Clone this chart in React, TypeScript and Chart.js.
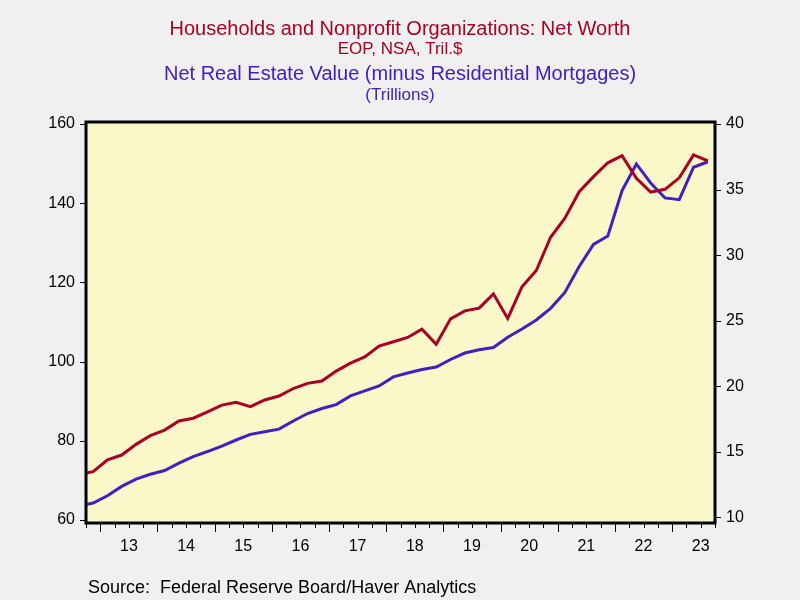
import React, { useEffect, useRef } from "react";
import { Chart, registerables } from "chart.js";
Chart.register(...registerables);

const quarters = [
  "2012Q3", "2012Q4",
  "2013Q1", "2013Q2", "2013Q3", "2013Q4",
  "2014Q1", "2014Q2", "2014Q3", "2014Q4",
  "2015Q1", "2015Q2", "2015Q3", "2015Q4",
  "2016Q1", "2016Q2", "2016Q3", "2016Q4",
  "2017Q1", "2017Q2", "2017Q3", "2017Q4",
  "2018Q1", "2018Q2", "2018Q3", "2018Q4",
  "2019Q1", "2019Q2", "2019Q3", "2019Q4",
  "2020Q1", "2020Q2", "2020Q3", "2020Q4",
  "2021Q1", "2021Q2", "2021Q3", "2021Q4",
  "2022Q1", "2022Q2", "2022Q3", "2022Q4",
  "2023Q1", "2023Q2", "2023Q3",
];

// Households and Nonprofit Organizations: Net Worth (left axis, Tril.$)
const netWorth = [
  71.5, 72.2,
  75.2, 76.4, 79.1, 81.3,
  82.7, 85.0, 85.7, 87.3,
  89.0, 89.7, 88.6, 90.3,
  91.3, 93.2, 94.5, 95.1,
  97.6, 99.6, 101.2, 103.9,
  105.0, 106.1, 108.2, 104.4,
  110.8, 112.8, 113.5, 117.1,
  110.9, 118.9, 123.0, 131.4,
  136.2, 142.9, 146.7, 150.2,
  152.0, 146.3, 142.8, 143.5,
  146.4, 152.2, 150.7,
];

// Net Real Estate Value (minus Residential Mortgages) (right axis, Trillions)
const realEstate = [
  10.87, 11.09,
  11.65, 12.36, 12.91, 13.29,
  13.57, 14.13, 14.64, 15.02,
  15.44, 15.9, 16.33, 16.53,
  16.73, 17.35, 17.92, 18.3,
  18.6, 19.26, 19.64, 20.02,
  20.71, 21.01, 21.28, 21.46,
  22.04, 22.53, 22.78, 22.95,
  23.74, 24.37, 25.05, 25.94,
  27.15, 29.13, 30.82, 31.45,
  34.92, 36.95, 35.5, 34.36,
  34.23, 36.7, 37.12,
];

const yearLabels = ["13", "14", "15", "16", "17", "18", "19", "20", "21", "22", "23"];
const leftTicks = [60, 80, 100, 120, 140, 160];
const rightTicks = [10, 15, 20, 25, 30, 35, 40];

const RED = "#AA0026";
const BLUE = "#4020C0";
const FONT = "'Liberation Sans', Arial, sans-serif";

const qToX = (q: string) => {
  const y = parseInt(q.slice(0, 4), 10);
  const n = parseInt(q.slice(5), 10);
  return y + (n - 0.5) / 4;
};

const X_MIN = 2012.75;
const X_MAX = 2023.75;

const decor = {
  id: "decor",
  beforeDraw(chart: any) {
    const { ctx, chartArea: a } = chart;
    ctx.save();
    ctx.fillStyle = "#F0F0F0";
    ctx.fillRect(0, 0, chart.width, chart.height);
    ctx.fillStyle = "#FAF8C8";
    ctx.fillRect(a.left, a.top, a.right - a.left, a.bottom - a.top);
    ctx.textAlign = "center";
    ctx.textBaseline = "middle";
    ctx.fillStyle = RED;
    ctx.font = `20px ${FONT}`;
    ctx.fillText("Households and Nonprofit Organizations: Net Worth", 400, 29);
    ctx.font = `17px ${FONT}`;
    ctx.fillText("EOP, NSA, Tril.$", 400, 49);
    ctx.fillStyle = BLUE;
    ctx.font = `20px ${FONT}`;
    ctx.fillText("Net Real Estate Value (minus Residential Mortgages)", 400, 74);
    ctx.font = `17px ${FONT}`;
    ctx.fillText("(Trillions)", 400, 95);
    ctx.textAlign = "left";
    ctx.fillStyle = "#000";
    ctx.font = `18px ${FONT}`;
    ctx.fillText("Source:  Federal Reserve Board/Haver Analytics", 88, 588);
    ctx.restore();
  },
  afterDraw(chart: any) {
    const { ctx, chartArea: a, scales } = chart;
    ctx.save();
    ctx.strokeStyle = "#000";
    ctx.lineWidth = 1;
    ctx.beginPath();
    const xs = scales.x;
    for (let v = X_MIN; v <= X_MAX + 1e-9; v += 0.25) {
      const px = Math.round(xs.getPixelForValue(v)) + 0.5;
      const major = Math.abs(v - Math.round(v)) < 1e-6;
      ctx.moveTo(px, a.bottom);
      ctx.lineTo(px, a.bottom + (major ? 9 : 5));
    }
    for (const v of leftTicks) {
      const py = Math.round(scales.y.getPixelForValue(v)) + 0.5;
      ctx.moveTo(a.left, py);
      ctx.lineTo(a.left - 6, py);
    }
    for (const v of rightTicks) {
      const py = Math.round(scales.y1.getPixelForValue(v)) + 0.5;
      ctx.moveTo(a.right, py);
      ctx.lineTo(a.right + 6, py);
    }
    ctx.stroke();
    ctx.lineWidth = 3;
    ctx.strokeRect(a.left, a.top, a.right - a.left, a.bottom - a.top);
    ctx.restore();
  },
};

export default function App() {
  const ref = useRef<HTMLCanvasElement | null>(null);
  useEffect(() => {
    if (!ref.current) return;
    const xs = quarters.map(qToX);
    const chart = new Chart(ref.current, {
      type: "line",
      data: {
        datasets: [
          {
            label: "Net Worth",
            data: netWorth.map((v, i) => ({ x: xs[i], y: v })),
            borderColor: RED,
            borderWidth: 3,
            pointRadius: 0,
            tension: 0,
            yAxisID: "y",
          },
          {
            label: "Net Real Estate Value",
            data: realEstate.map((v, i) => ({ x: xs[i], y: v })),
            borderColor: BLUE,
            borderWidth: 3,
            pointRadius: 0,
            tension: 0,
            yAxisID: "y1",
          },
        ],
      },
      options: {
        animation: false,
        responsive: false,
        devicePixelRatio: 1,
        layout: { padding: { top: 122, left: 0, right: 0, bottom: 0 } },
        plugins: {
          legend: { display: false },
          title: { display: false },
          tooltip: { enabled: false },
        },
        scales: {
          x: {
            type: "linear",
            position: "bottom",
            min: X_MIN,
            max: X_MAX,
            grid: { display: false, drawTicks: false },
            border: { display: false },
            afterBuildTicks: (s: any) => {
              s.ticks = yearLabels.map((_, i) => ({ value: 2013 + i + 0.5 }));
            },
            afterFit: (s: any) => {
              s.height = 77;
            },
            ticks: {
              autoSkip: false,
              maxRotation: 0,
              padding: 14,
              color: "#000",
              font: { family: FONT, size: 16 },
              callback: (_v: any, i: number) => yearLabels[i],
            },
          },
          y: {
            type: "linear",
            position: "left",
            min: 59.24,
            max: 160.5,
            grid: { display: false, drawTicks: false },
            border: { display: false },
            afterBuildTicks: (s: any) => {
              s.ticks = leftTicks.map((v) => ({ value: v }));
            },
            afterFit: (s: any) => {
              s.width = 86;
            },
            ticks: {
              padding: 11,
              color: "#000",
              font: { family: FONT, size: 16 },
            },
          },
          y1: {
            type: "linear",
            position: "right",
            min: 9.57,
            max: 40.15,
            grid: { display: false, drawTicks: false },
            border: { display: false },
            afterBuildTicks: (s: any) => {
              s.ticks = rightTicks.map((v) => ({ value: v }));
            },
            afterFit: (s: any) => {
              s.width = 85;
            },
            ticks: {
              padding: 11,
              color: "#000",
              font: { family: FONT, size: 16 },
            },
          },
        },
      },
      plugins: [decor],
    });
    return () => chart.destroy();
  }, []);
  return (
    <div style={{ position: "fixed", left: 0, top: 0, width: 800, height: 600 }}>
      <canvas ref={ref} width={800} height={600} />
    </div>
  );
}
